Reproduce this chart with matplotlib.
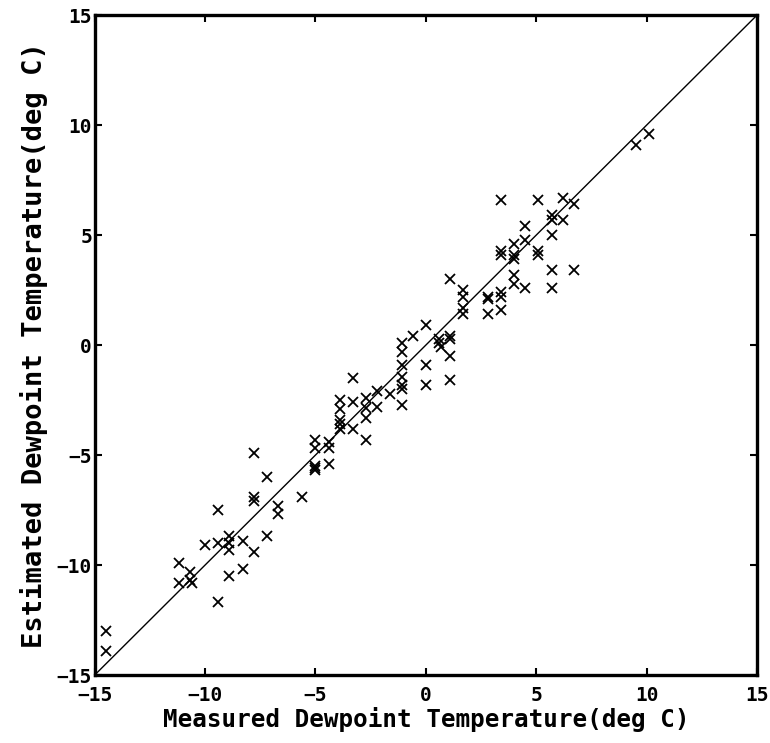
import numpy as np
import matplotlib.pyplot as plt

# measured vs estimated dewpoint (deg C)
measured = [-14.5, -14.5, -11.2, -11.2, -10.7, -10.7, -10.6, -10.0, -9.4, -9.4, -9.4,
            -8.9, -8.9, -8.9, -8.9, -8.3, -8.3, -7.8, -7.8, -7.8, -7.8, -7.2, -7.2,
            -6.7, -6.7, -5.6, -5.0, -5.0, -5.0, -5.0, -5.0, -4.4, -4.4, -4.4,
            -3.9, -3.9, -3.9, -3.9, -3.9, -3.3, -3.3, -3.3, -2.7, -2.7, -2.7, -2.7,
            -2.2, -2.2, -1.6, -1.1, -1.1, -1.1, -1.1, -1.1, -1.1, -1.1, -0.6,
            0.0, 0.0, 0.0, 0.6, 0.6, 0.7, 1.1, 1.1, 1.1, 1.1, 1.1,
            1.7, 1.7, 1.7, 1.7, 2.8, 2.8, 2.8, 3.4, 3.4, 3.4, 3.4, 3.4, 3.4,
            4.0, 4.0, 4.0, 4.0, 4.0, 4.5, 4.5, 4.5, 5.1, 5.1, 5.1,
            5.7, 5.7, 5.7, 5.7, 5.7, 6.2, 6.2, 6.7, 6.7, 9.5, 10.1]
estimated = [-13.0, -13.9, -9.9, -10.8, -10.3, -10.7, -10.8, -9.1, -7.5, -9.0, -11.7,
             -8.7, -9.0, -9.3, -10.5, -8.9, -10.2, -4.9, -6.9, -7.1, -9.4, -6.0, -8.7,
             -7.3, -7.7, -6.9, -4.3, -4.7, -5.5, -5.6, -5.7, -4.4, -4.7, -5.4,
             -2.5, -2.9, -3.4, -3.6, -3.8, -1.5, -2.6, -3.8, -2.4, -2.85, -3.3, -4.3,
             -2.1, -2.8, -2.2, 0.1, -0.3, -0.9, -1.45, -1.8, -2.0, -2.7, 0.4,
             0.9, -0.9, -1.8, 0.3, 0.1, -0.1, 3.0, 0.4, 0.3, -0.5, -1.6,
             2.5, 2.2, 1.7, 1.4, 2.2, 2.1, 1.4, 6.6, 4.3, 4.1, 2.4, 2.2, 1.6,
             4.6, 4.1, 3.9, 3.2, 2.8, 5.4, 4.8, 2.6, 6.6, 4.3, 4.1,
             5.9, 5.7, 5.0, 3.4, 2.6, 6.7, 5.7, 6.4, 3.4, 9.1, 9.6]
ticks = [-15, -10, -5, 0, 5, 10, 15]

mono = 'DejaVu Sans Mono'

fig = plt.figure(figsize=(7.7, 7.43), dpi=100)
ax = fig.add_axes([0.123, 0.0915, 0.86, 0.888])

ax.plot([-15, 15], [-15, 15], color='black', lw=1.0)
ax.plot(measured, estimated, 'x', color='black', ms=7.5, mew=1.3)

ax.set_xlim(-15, 15)
ax.set_ylim(-15, 15)
ax.set_xticks(ticks)
ax.set_yticks(ticks)
for s in ax.spines.values():
    s.set_linewidth(2.4)
ax.tick_params(direction='in', length=5, width=1.5, top=True, right=True,
               labelsize=14)
ax.tick_params(axis='x', pad=8)
ax.tick_params(axis='y', pad=2)
for lab in ax.get_xticklabels() + ax.get_yticklabels():
    lab.set_fontfamily(mono)
    lab.set_fontweight('bold')

ax.set_xlabel('Measured Dewpoint Temperature(deg C)', fontsize=17.5,
              fontfamily=mono, fontweight='bold', labelpad=1)
ax.set_ylabel('Estimated Dewpoint Temperature(deg C)', fontsize=19.5,
              fontfamily=mono, fontweight='bold', labelpad=6)

fig.savefig('out.png', dpi=100)
